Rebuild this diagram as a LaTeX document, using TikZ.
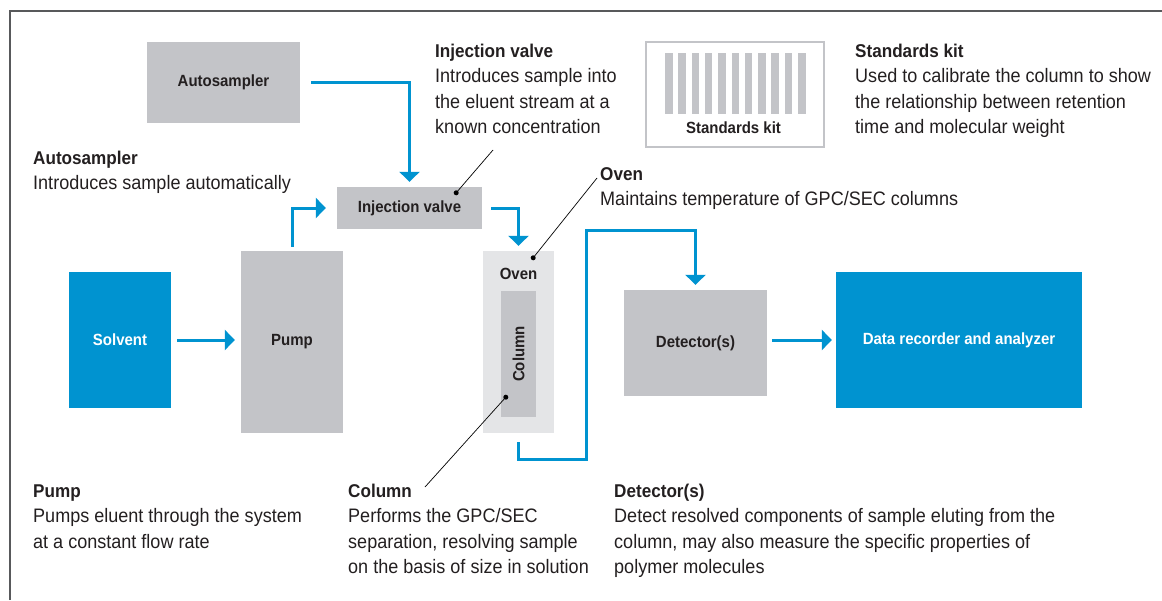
\documentclass[tikz,border=0pt]{standalone}
\usepackage{fontspec}
\setmainfont{Liberation Sans}[FakeStretch=0.925]
\usetikzlibrary{arrows.meta}
\definecolor{flowblue}{RGB}{0,147,208}
\definecolor{boxgray}{RGB}{195,196,200}
\definecolor{ovengray}{RGB}{228,229,231}
\definecolor{inkdark}{RGB}{35,31,32}
\definecolor{framegray}{RGB}{88,89,91}
\newcommand{\head}[1]{{\fontsize{18.5}{25.5}\selectfont\bfseries #1}}
\tikzset{
  unit/.style={fill=boxgray, inner sep=0pt, text=inkdark, font=\fontsize{16.2}{18}\selectfont\bfseries},
  bluebox/.style={unit, fill=flowblue, text=white},
  flow/.style={draw=flowblue, line width=3pt, -{Triangle[width=20pt,length=10pt]}},
  callout/.style={draw=black, line width=0.7pt},
  dot/.style={circle, fill=black, inner sep=0pt, minimum size=5pt},
  note/.style={anchor=base west, align=left, inner sep=0pt, text=inkdark, font=\fontsize{19.5}{25.5}\selectfont}
}
\begin{document}
\begin{tikzpicture}[x=1pt, y=-1pt]
\useasboundingbox (0,0) rectangle (1162,600);
\draw[framegray, line width=1.5pt] (10,600)--(10,11)--(1162,11);

% units
\node[unit, minimum width=153pt, minimum height=81pt] (auto) at (223.5,82.5) {Autosampler};
\node[unit, minimum width=145pt, minimum height=42pt] (inj) at (409.5,208) {Injection valve};
\node[bluebox, minimum width=102pt, minimum height=136pt] (solvent) at (120,340) {Solvent};
\node[unit, minimum width=102pt, minimum height=182pt] (pump) at (292,342) {Pump};
\node[unit, fill=ovengray, minimum width=71pt, minimum height=182pt] (oven) at (518.5,342) {};
\node[unit, fill=none] (ovenname) at ([yshift=-23pt]oven.north) {Oven};
\node[unit, minimum width=35pt, minimum height=126pt] (column) at (518.5,354) {};
\node[unit, fill=none, rotate=90] (columnname) at (column.center) {Column};
\node[unit, minimum width=143pt, minimum height=106pt] (det) at (695.5,343) {Detector(s)};
\node[bluebox, minimum width=246pt, minimum height=136pt] (data) at (959,340) {Data recorder and analyzer};

% standards kit
\node[draw=boxgray, line width=2pt, fill=white, minimum width=178pt, minimum height=105pt] (kit) at (735,94.5) {};
\foreach \i in {0,...,10}
  \fill[boxgray] (665+\i*13.3,53) rectangle ++(7.5,61);
\node[unit, fill=none] (kitname) at (733.5,128) {Standards kit};

% flow
\draw[flow] ([xshift=11pt]auto.east) -| ([yshift=5pt]inj.north);
\draw[flow] ([yshift=4pt]pump.north) |- ([xshift=-11pt]inj.west);
\draw[flow] ([xshift=9pt]inj.east) -| ([yshift=5pt]oven.north);
\draw[flow] ([xshift=6pt]solvent.east) -- ([xshift=-6pt]pump.west |- solvent.east);
\coordinate (outlow) at (586,459);
\coordinate (outhigh) at (586,230);
\draw[flow] ([yshift=-9pt]oven.south) |- (outlow) -- (outhigh) -| ([yshift=5pt]det.north);
\draw[flow] ([xshift=-4pt]data.west -| det.east) ++(9pt,0) -- ([xshift=-4pt]data.west);

% descriptions
\node[note] (autotxt) at (33,189.5) {\head{Autosampler}\\Introduces sample automatically};
\node[note] (injtxt) at (435,133.5) {\head{Injection valve}\\Introduces sample into\\the eluent stream at a\\known concentration};
\node[note] (kittxt) at (855,133.5) {\head{Standards kit}\\Used to calibrate the column to show\\the relationship between retention\\time and molecular weight};
\node[note] (oventxt) at (600,205.5) {\head{Oven}\\Maintains temperature of GPC/SEC columns};
\node[note] (pumptxt) at (33,548) {\head{Pump}\\Pumps eluent through the system\\at a constant flow rate};
\node[note] (columntxt) at (348,573.5) {\head{Column}\\Performs the GPC/SEC\\separation, resolving sample\\on the basis of size in solution};
\node[note] (dettxt) at (614,573.5) {\head{Detector(s)}\\Detect resolved components of sample eluting from the\\column, may also measure the specific properties of\\polymer molecules};

% callouts
\node[dot] (injdot) at ([xshift=-26pt,yshift=-6pt]inj.north east) {};
\node[dot] (ovendot) at ([xshift=-21pt,yshift=-7pt]oven.north east) {};
\node[dot] (columndot) at ([xshift=5pt,yshift=20pt]column.south west) {};
\coordinate (injend) at (493,150);
\coordinate (ovenend) at (597,178);
\coordinate (columnend) at (425,487);
\draw[callout] (injdot.center) -- (injend);
\draw[callout] (ovendot.center) -- (ovenend);
\draw[callout] (columndot.center) -- (columnend);
\end{tikzpicture}
\end{document}
